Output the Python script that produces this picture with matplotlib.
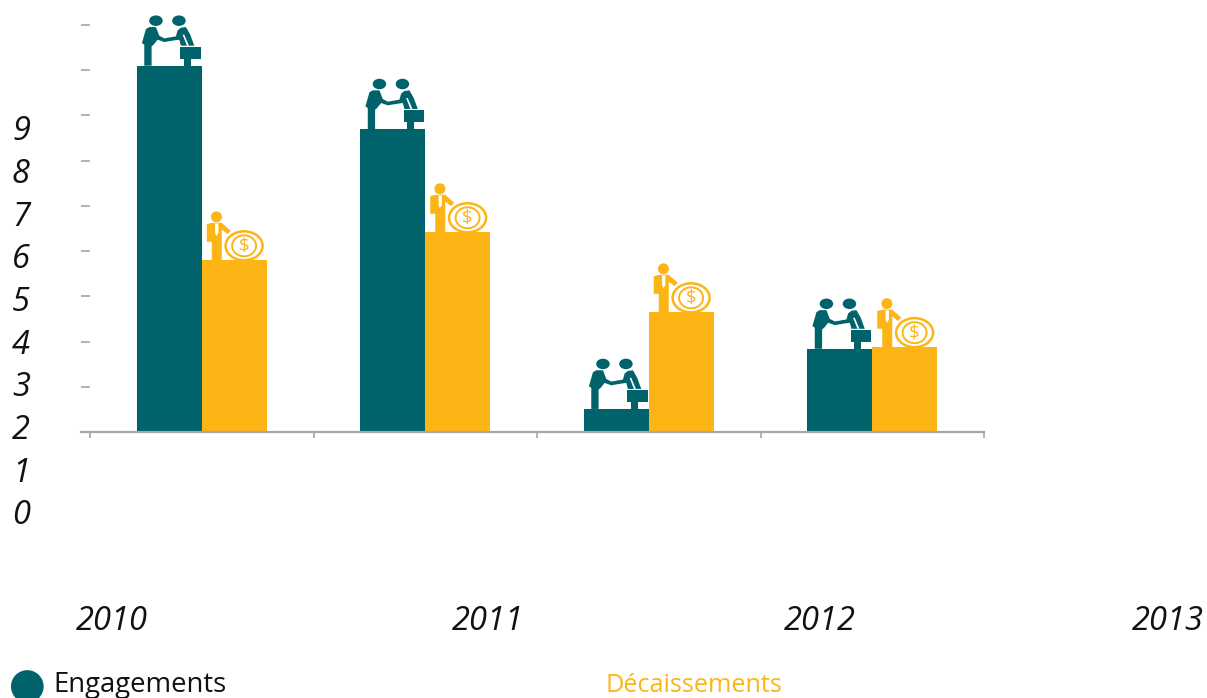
import matplotlib
matplotlib.use('Agg')
import matplotlib.pyplot as plt
import numpy as np
from matplotlib.patches import Polygon, Ellipse
from matplotlib.transforms import Affine2D

years = ['2010', '2011', '2012', '2013']
y_labels = ['0', '1', '2', '3', '4', '5', '6', '7', '8', '9']
engagements = [8.1, 6.7, 0.51, 1.84]
decaissements = [3.8, 4.42, 2.65, 1.88]
legend_names = ['Engagements', 'Décaissements']

TEAL = '#00626a'
YELLOW = '#fdb515'
GREY = '#a6a6a6'
INK = '#111111'
W, H = 1207, 698

plt.rcParams['font.family'] = ['Open Sans', 'DejaVu Sans']

fig = plt.figure(figsize=(W / 100, H / 100), dpi=100)
ax = fig.add_axes([81 / W, 1 - 432 / H, (984 - 81) / W, (432 - 25) / H])
ax.set_xlim(-9 / 223.5, 4)
ax.set_ylim(0, 9)
ax.patch.set_alpha(0)

n = len(engagements)
x = np.arange(n) + 0.5
width = 0.29
ax.bar(x - width / 2, engagements, width, color=TEAL, zorder=2)
ax.bar(x + width / 2, decaissements, width, color=YELLOW, zorder=2)

for s in ['top', 'right', 'left']:
    ax.spines[s].set_visible(False)
ax.spines['bottom'].set_color(GREY)
ax.spines['bottom'].set_linewidth(1.6)
ax.set_xticks(np.arange(n + 1))
ax.set_xticklabels([])
ax.set_yticks(np.arange(1, 10))
ax.set_yticklabels([])
ax.tick_params(axis='x', color=GREY, length=4.5, width=1.2)
# the dashes of the y axis point inwards
ax.tick_params(axis='y', color=GREY, length=6.5, width=1.2, direction='in')


def shift(xv, top):
    px, py = ax.transData.transform((xv, top))
    return Affine2D().translate(px, py)


def shape(pts, tr, color, z=3):
    ax.add_patch(Polygon(pts, color=color, lw=0, transform=tr, clip_on=False, zorder=z))


def handshake(xv, top):
    # points measured on the 3x zoom of the icon, from the bar corner
    def p(pts):
        return [((a - 18) / 3, (198 - b) / 3) for a, b in pts]
    tr = shift(xv, top)
    body = [(33, 130), (45, 88), (55, 82), (75, 82), (85, 108), (100, 116), (135, 110),
            (140, 92), (150, 84), (165, 82), (178, 105), (190, 138), (150, 138), (145, 120),
            (130, 122), (100, 127), (80, 120), (68, 135), (62, 140), (62, 198), (40, 198),
            (40, 135)]
    shape(p(body), tr, TEAL)
    shape(p([(155, 105), (160, 105), (174, 138), (168, 138)]), tr, 'white', 4)
    shape(p([(158, 178), (180, 178), (180, 198), (158, 198)]), tr, TEAL)
    shape(p([(148, 142), (210, 142), (210, 178), (148, 178)]), tr, TEAL)
    for hx in [75, 144]:
        ax.add_patch(Ellipse(p([(hx, 63)])[0], 13.5, 10.5, color=TEAL, lw=0, transform=tr,
                             clip_on=False, zorder=3))


def coinman(xv, top):
    def p(pts):
        return [((a - 18) / 3, (180 - b) / 3) for a, b in pts]
    tr = shift(xv, top)
    body = [(33, 72), (50, 68), (78, 68), (105, 92), (95, 102), (78, 88), (78, 180), (48, 180),
            (48, 125), (33, 125)]
    shape(p(body), tr, YELLOW)
    shape(p([(58, 70), (68, 70), (68, 98), (62, 108), (58, 98)]), tr, 'white', 4)
    ax.add_patch(Ellipse(p([(62, 50)])[0], 11, 11, color=YELLOW, lw=0, transform=tr,
                         clip_on=False, zorder=3))
    c = p([(145, 137)])[0]
    ax.add_patch(Ellipse(c, 37, 29, fc='white', ec=YELLOW, lw=1.8, transform=tr,
                         clip_on=False, zorder=3))
    ax.add_patch(Ellipse(c, 24, 21, fc='white', ec=YELLOW, lw=1.4, transform=tr,
                         clip_on=False, zorder=4))
    ax.text(c[0], c[1], r'\$', color=YELLOW, fontsize=13.5, ha='center', va='center', transform=tr,
            clip_on=False, zorder=5)


for i in range(n):
    handshake(x[i] - width, engagements[i])
    coinman(x[i], decaissements[i])

# the printed scale does not line up with the dashes
for i, lab in enumerate(y_labels):
    fig.text(21 / W, 1 - (516 - i * 42.7) / H, lab, fontsize=23.5, style='italic', color=INK,
             ha='center', va='center')

for lab, xp in zip(years, [112, 488, 820, 1168]):
    fig.text(xp / W, 1 - 622 / H, lab, fontsize=23.5, style='italic', color=INK,
             ha='center', va='center')

fig.add_artist(Ellipse((27.3 / W, 1 - 686.5 / H), 32.7 / W, 32.7 / H, color=TEAL, lw=0,
                       transform=fig.transFigure))
fig.text(53 / W, 1 - 692 / H, legend_names[0], fontsize=19.8, color=INK, va='baseline')
fig.text(605 / W, 1 - 692 / H, legend_names[1], fontsize=18.2, color=YELLOW, va='baseline')

fig.savefig('out.png', dpi=100)
